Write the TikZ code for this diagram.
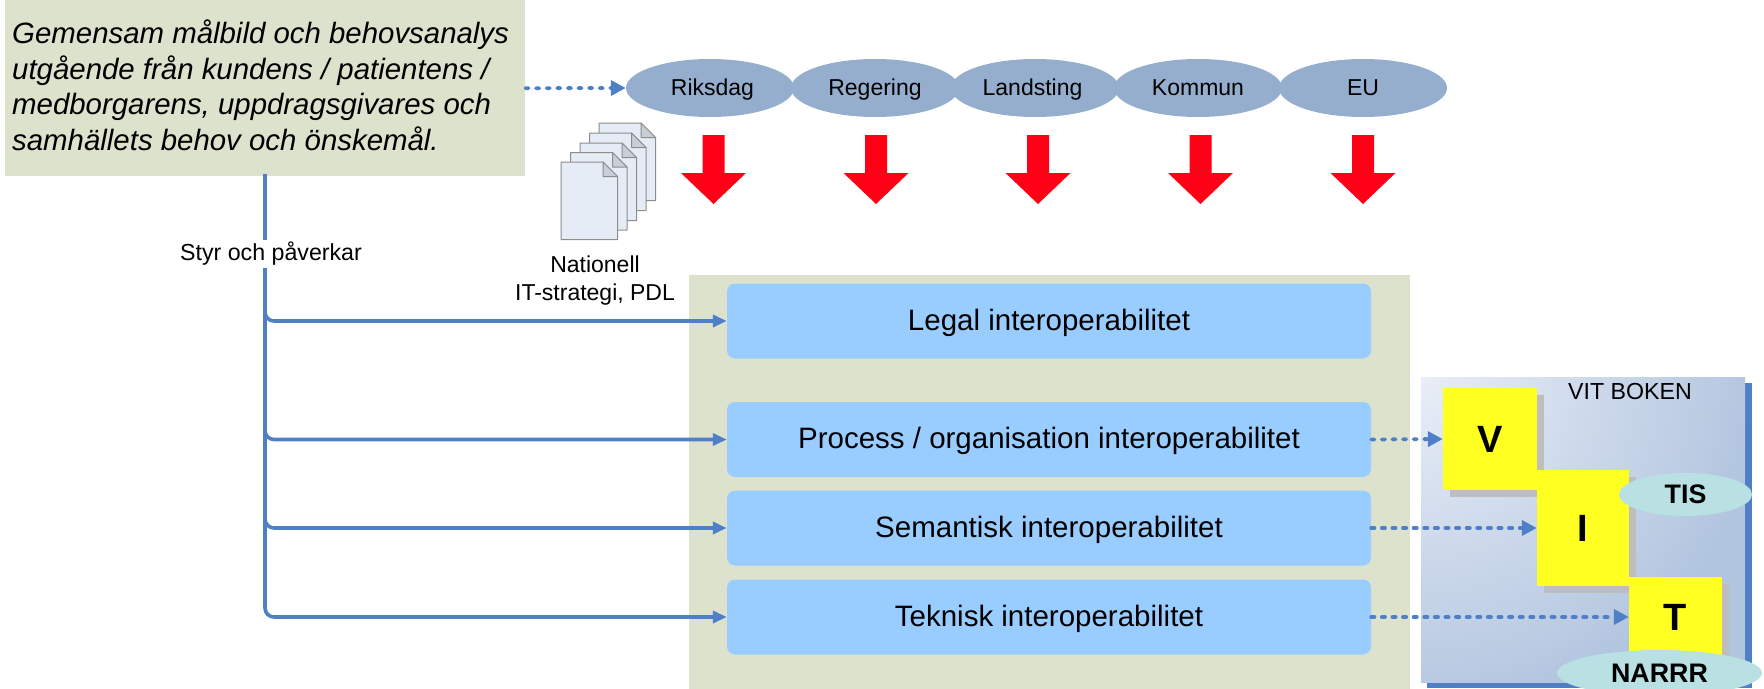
\documentclass[tikz,border=0pt]{standalone}
\usepackage{fontspec}
\setmainfont{Liberation Sans}
\usetikzlibrary{arrows.meta,shapes.geometric,calc}
\definecolor{panelgreen}{HTML}{DDE2CD}
\definecolor{boxblue}{HTML}{99CCFF}
\definecolor{ovalblue}{HTML}{95AECE}
\definecolor{linkblue}{HTML}{4F7FC6}
\definecolor{tealoval}{HTML}{B9E0E2}
\definecolor{docfill}{HTML}{E6ECF6}
\definecolor{docfold}{HTML}{C9CFD9}
\definecolor{shadowgrey}{HTML}{BEBEBE}
\definecolor{arrowred}{HTML}{FF0016}
\definecolor{yellowfill}{HTML}{FFFF22}
\definecolor{booklight}{HTML}{E9EEF7}
\definecolor{bookdark}{HTML}{B2C5DF}
\tikzset{
  x=1pt,y=-1pt,
  px/.style={font=\fontsize{#1}{#1}\selectfont},
  band/.style={fill=boxblue,rounded corners=8pt,minimum width=644pt,minimum height=75pt,inner sep=0pt,px=29.5,text height=24.5pt,text depth=6pt},
  oval/.style={ellipse,fill=ovalblue,minimum width=168pt,minimum height=58pt,inner sep=0pt,px=23,text height=19.5pt,text depth=5pt},
  yellowbox/.style={fill=yellowfill,inner sep=0pt,font=\fontsize{38}{38}\selectfont\bfseries},
  greybox/.style={fill=shadowgrey},
  tealtag/.style={ellipse,fill=tealoval,inner sep=0pt,font=\fontsize{26.8}{26.8}\selectfont\bfseries},
  solidlink/.style={draw=linkblue,line width=3.6pt,rounded corners=9pt,-{Triangle[length=14pt,width=12pt]}},
  dotlink/.style={draw=linkblue,line width=3.8pt,dash pattern=on 3.2pt off 7.4pt,line cap=round,-{Triangle[length=15pt,width=15pt]}},
  page/.style={draw=black!45,line width=1pt,fill=docfill,line join=round},
}
\newcommand{\docpage}[2]{%
  \begin{scope}[shift={(#1,#2)}]
    \path[page] (0,0) -- (42,0) -- (56.5,14.5) -- (56.5,77.5) -- (0,77.5) -- cycle;
    \path[page,fill=docfold] (42,0) -- (42,14.5) -- (56.5,14.5) -- cycle;
  \end{scope}}
\newcommand{\redarrow}[2]{%
  \path[fill=arrowred] (#1-11,#2) -- (#1+11,#2) -- (#1+11,#2+38) -- (#1+32.5,#2+38) -- (#1,#2+69) -- (#1-32.5,#2+38) -- (#1-11,#2+38) -- cycle;}
\begin{document}
\begin{tikzpicture}
\useasboundingbox (0,0) rectangle (1764,688);
\begin{scope}
\clip (0,0) rectangle (1764,688);
% top-left text panel
\node[fill=panelgreen,minimum width=520pt,minimum height=176pt,inner sep=0pt,anchor=north west] (goal) at (5,0) {};
\node[anchor=north west,inner sep=0pt,align=left,font=\fontsize{29.4}{35.5}\selectfont\itshape] (goaltext) at (12,20)
  {Gemensam målbild och behovsanalys\\utgående från kundens / patientens /\\medborgarens, uppdragsgivares och\\samhällets behov och önskemål.};
% ovals
\node[oval] (riksdag) at (710,88) {\kern5pt Riksdag};
\node[oval] (regering) at (875,88) {Regering};
\node[oval] (landsting) at (1035,88) {Landsting\kern5pt};
\node[oval] (kommun) at (1198,88) {Kommun};
\node[oval] (eu) at (1363,88) {EU};
% red arrows
\redarrow{713.5}{135}
\redarrow{876}{135}
\redarrow{1038}{135}
\redarrow{1200.5}{135}
\redarrow{1363}{135}
% documents
\docpage{599}{123}
\docpage{589.5}{133}
\docpage{580}{143}
\docpage{570.5}{152.5}
\docpage{561}{162}
\node[align=center,inner sep=0pt,font=\fontsize{23}{27.5}\selectfont] (strategy) at (595,280.5) {Nationell\\IT-strategi, PDL};
% main panel
\node[fill=panelgreen,minimum width=721.5pt,minimum height=420pt,inner sep=0pt,anchor=north west] (panel) at (688.5,275) {};
\node[band] (legal) at (1049,321) {Legal interoperabilitet};
\node[band] (process) at (1049,439.5) {Process / organisation interoperabilitet};
\node[band] (semantic) at (1049,528) {Semantisk interoperabilitet};
\node[band] (technical) at (1049,617) {Teknisk interoperabilitet};
% white book
\path[fill=linkblue] (1427,383) rectangle (1752,688);
\path[fill=bookdark] (1421,377) rectangle (1745,682);
\begin{scope}
  \clip (1421,377) rectangle (1745,682);
  \shade[inner color=booklight,outer color=bookdark] (1421,377) circle (340);
\end{scope}
\node[anchor=center,inner sep=0pt,px=23.2] (booktitle) at (1630,391.5) {VIT BOKEN};
% V I T blocks
\path[greybox] (1450,395) rectangle (1544,497);
\node[yellowbox,minimum width=94pt,minimum height=102pt] (v) at (1490,439) {V};
\path[greybox] (1544,477) rectangle (1636,593);
\node[yellowbox,minimum width=92pt,minimum height=116pt] (i) at (1583,528) {I};
\path[greybox] (1636,584) rectangle (1729,664);
\node[yellowbox,minimum width=93pt,minimum height=80pt] (t) at (1675.5,617) {T};
\node[tealtag,minimum width=133pt,minimum height=43pt] (tis) at (1685.5,494.5) {TIS};
\node[tealtag,minimum width=205pt,minimum height=46pt] (narrr) at (1659.5,673) {NARRR};
% connectors
\coordinate (trunk) at (265,174);
\draw[solidlink] (trunk) |- (legal.west);
\draw[solidlink] (trunk) |- (process.west);
\draw[solidlink] (trunk) |- (semantic.west);
\draw[solidlink] (trunk) |- (technical.west);
\node[fill=white,inner sep=2pt,px=23.2] (steer) at (271,254) {Styr och påverkar};
\draw[dotlink] (goal.east) -- (riksdag.west);
\draw[dotlink] (process.east) -- (v.west);
\draw[dotlink] (semantic.east) -- (i.west);
\draw[dotlink] (technical.east) -- (t.west);
\end{scope}
\end{tikzpicture}
\end{document}
